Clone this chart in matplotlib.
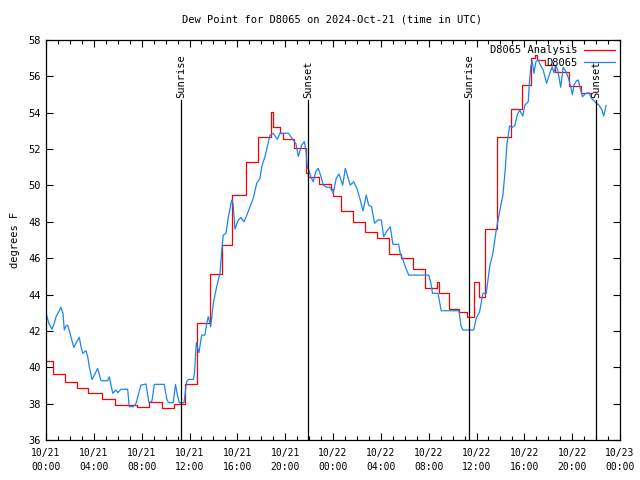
import datetime as dt
import matplotlib
matplotlib.use("Agg")
import matplotlib.pyplot as plt
import matplotlib.dates as mdates

# ---- data (hours since 2024-10-21 00:00 UTC) ----
analysis_hours = [0.00, 0.55, 1.55, 2.60, 3.55, 4.72, 5.77, 7.62, 8.60, 9.70,
                  10.70, 11.66, 12.60, 13.70, 14.70, 15.55, 16.72, 17.70, 18.80, 18.95,
                  19.60, 19.80, 20.78, 21.78, 21.95, 22.80, 23.83, 24.04, 24.70, 25.67,
                  26.67, 27.70, 28.68, 29.68, 30.69, 31.69, 32.70, 32.90, 33.70, 34.55,
                  35.20, 35.80, 36.25, 36.75, 37.70, 38.90, 39.80, 40.55, 40.90, 41.10,
                  41.70, 42.60, 43.70, 44.70, 45.65]
analysis_vals = [40.34, 39.63, 39.20, 38.84, 38.57, 38.25, 37.92, 37.81, 38.07, 37.76,
                 37.96, 39.07, 42.42, 45.12, 46.70, 49.45, 51.27, 52.65, 54.06, 53.20,
                 52.87, 52.54, 52.04, 50.70, 50.45, 50.08, 49.79, 49.42, 48.60, 47.99,
                 47.44, 47.09, 46.22, 45.99, 45.40, 44.34, 44.67, 44.07, 43.22, 43.06,
                 42.78, 44.67, 43.85, 47.58, 52.65, 54.19, 55.52, 57.00, 57.17, 56.90,
                 56.63, 56.22, 55.47, 55.10, 55.10]

obs_hours = [0.00, 0.23, 0.50, 0.69, 0.84, 1.11, 1.25, 1.42, 1.53, 1.67,
             1.81, 2.01, 2.32, 2.57, 2.78, 2.93, 3.07, 3.34, 3.49, 3.62,
             3.85, 4.04, 4.32, 4.46, 4.60, 5.16, 5.29, 5.58, 5.85, 6.00,
             6.27, 6.83, 6.96, 7.30, 7.53, 7.94, 8.36, 8.61, 8.86, 9.06,
             9.89, 10.09, 10.23, 10.64, 10.83, 10.95, 11.15, 11.54, 11.76, 11.90,
             12.32, 12.42, 12.57, 12.79, 13.02, 13.29, 13.44, 13.57, 13.77, 13.99,
             14.27, 14.55, 14.69, 14.82, 15.05, 15.24, 15.53, 15.64, 15.80, 16.08,
             16.30, 16.56, 16.81, 17.06, 17.33, 17.62, 17.89, 18.04, 18.31, 18.50,
             18.73, 19.00, 19.34, 19.57, 20.26, 20.68, 20.90, 21.10, 21.38, 21.60,
             21.74, 21.85, 22.02, 22.16, 22.35, 22.55, 22.77, 22.99, 23.19, 23.47,
             23.75, 24.02, 24.27, 24.50, 24.81, 25.03, 25.44, 25.73, 26.00, 26.28,
             26.51, 26.78, 26.98, 27.22, 27.48, 27.76, 28.04, 28.24, 28.51, 28.79,
             28.93, 29.01, 29.49, 29.62, 29.91, 30.10, 30.33, 32.00, 32.19, 32.32,
             32.78, 33.05, 34.53, 34.72, 34.87, 35.76, 35.98, 36.26, 36.54, 36.82,
             37.10, 37.37, 37.65, 37.93, 38.21, 38.40, 38.55, 38.77, 39.01, 39.21,
             39.41, 39.61, 39.86, 40.05, 40.33, 40.41, 40.53, 40.66, 40.80, 40.97,
             41.16, 41.36, 41.58, 41.86, 42.20, 42.33, 42.47, 42.64, 42.81, 43.04,
             43.25, 43.48, 43.69, 43.85, 44.02, 44.16, 44.36, 44.51, 44.65, 44.86,
             45.13, 45.40, 45.65, 46.03, 46.24, 46.49, 46.64, 46.84]
obs_vals = [43.00, 42.42, 42.09, 42.42, 42.78, 43.11, 43.30, 42.97, 42.05, 42.27,
            42.32, 41.87, 41.10, 41.40, 41.65, 41.13, 40.77, 40.91, 40.58, 40.03,
            39.33, 39.57, 39.94, 39.60, 39.26, 39.26, 39.48, 38.57, 38.75, 38.60,
            38.79, 38.79, 37.83, 37.83, 38.02, 39.02, 39.08, 38.05, 38.15, 39.06,
            39.06, 38.29, 38.05, 38.05, 39.06, 38.60, 38.05, 38.05, 39.20, 39.33,
            39.33, 39.67, 41.35, 40.80, 41.77, 41.77, 42.42, 42.78, 42.23, 43.52,
            44.43, 45.17, 46.36, 47.27, 47.36, 48.24, 49.20, 49.00, 47.60, 48.10,
            48.24, 48.00, 48.40, 48.83, 49.29, 50.12, 50.39, 51.03, 51.58, 52.13,
            52.77, 52.87, 52.54, 52.87, 52.87, 52.50, 52.30, 51.60, 52.22, 52.41,
            51.90, 51.03, 50.76, 50.45, 50.20, 50.76, 50.94, 50.50, 50.02, 49.90,
            49.90, 49.57, 50.39, 50.63, 50.02, 50.94, 50.02, 50.20, 49.84, 49.20,
            48.60, 49.47, 48.92, 48.83, 47.92, 48.10, 48.10, 47.18, 47.50, 47.73,
            47.09, 46.76, 46.76, 46.27, 45.81, 45.44, 45.07, 45.07, 44.62, 44.07,
            44.07, 43.11, 43.11, 42.23, 42.05, 42.05, 42.69, 43.06, 44.07, 44.07,
            45.53, 46.27, 47.55, 48.56, 49.48, 50.85, 52.32, 53.27, 53.20, 53.30,
            53.88, 54.15, 53.82, 54.42, 54.61, 55.50, 56.50, 56.86, 56.17, 56.81,
            56.90, 56.60, 56.35, 55.62, 56.30, 56.53, 56.20, 56.60, 56.30, 55.40,
            56.50, 56.26, 55.90, 55.50, 55.00, 55.55, 55.75, 55.80, 55.40, 54.88,
            55.06, 55.10, 54.76, 54.53, 54.42, 54.15, 53.82, 54.40]

sun_event_hours = [11.29, 21.90, 35.37, 45.99]
sun_event_labels = ["Sunrise", "Sunset", "Sunrise", "Sunset"]

title_text = "Dew Point for D8065 on 2024-Oct-21 (time in UTC)"
y_label = "degrees F"
series_names = ["D8065 Analysis", "D8065"]

base = dt.datetime(2024, 10, 21, 0, 0)


def to_dt(hours):
    return [base + dt.timedelta(hours=h) for h in hours]


plt.rcParams['font.family'] = ['DejaVu Sans Mono']
fs = 7.5

fig = plt.figure(figsize=(6.4, 4.8), dpi=100)
ax = fig.add_axes([46 / 640, 40 / 480, 574 / 640, 400 / 480])

ax.plot(to_dt(analysis_hours), analysis_vals, color='#ff0000', lw=0.9,
        drawstyle='steps-post', label=series_names[0])
ax.plot(to_dt(obs_hours), obs_vals, color='#1a86f0', lw=0.9,
        label=series_names[1])

for h, lab in zip(sun_event_hours, sun_event_labels):
    t = base + dt.timedelta(hours=h)
    ax.plot([t, t], [36, 54.7], color='black', lw=0.9)
    ax.text(t, 54.8, lab, rotation=90, ha='center', va='bottom', fontsize=fs)

ax.set_xlim(base, base + dt.timedelta(hours=48))
ax.set_ylim(36, 58)
ax.set_yticks(range(36, 59, 2))

ax.xaxis.set_major_locator(mdates.HourLocator(byhour=range(0, 24, 4)))
ax.xaxis.set_minor_locator(mdates.HourLocator())
ax.xaxis.set_major_formatter(mdates.DateFormatter('%m/%d\n%H:%M'))

ax.tick_params(axis='both', which='both', direction='in', top=True, right=True,
               labelsize=fs, width=0.8)
ax.tick_params(axis='both', which='major', length=5)
ax.tick_params(axis='both', which='minor', length=3)
ax.tick_params(axis='x', pad=6, labelsize=7)
for lbl in ax.get_xticklabels():
    lbl.set_linespacing(1.45)
for s in ax.spines.values():
    s.set_linewidth(0.9)

ax.set_ylabel(y_label, fontsize=fs, labelpad=6)
fig.text(332 / 640, 1 - 19 / 480, title_text, ha='center', va='center', fontsize=fs)

leg = ax.legend(loc='upper right', frameon=False, fontsize=fs, handlelength=3.0,
                markerfirst=False, borderaxespad=0.1, labelspacing=0.25,
                handletextpad=0.6)

fig.savefig('out.png', dpi=100)
